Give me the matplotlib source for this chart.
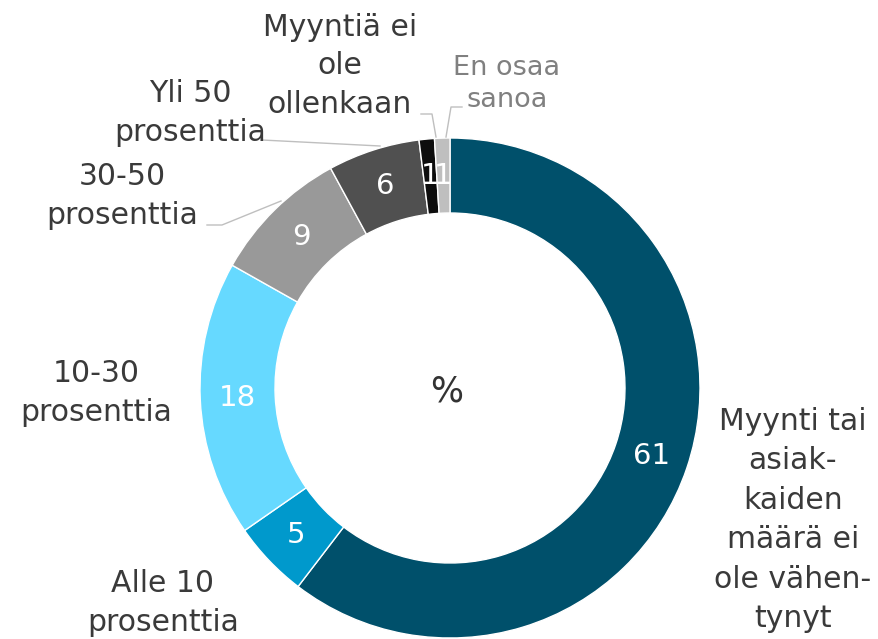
import matplotlib
matplotlib.use("Agg")
import matplotlib.pyplot as plt
import numpy as np

categories = ["Myynti tai\nasiak-\nkaiden\nmäärä ei\nole vähen-\ntynyt",
              "Alle 10\nprosenttia",
              "10-30\nprosenttia",
              "30-50\nprosenttia",
              "Yli 50\nprosenttia",
              "Myyntiä ei\nole\nollenkaan",
              "En osaa\nsanoa"]
values = [61, 5, 18, 9, 6, 1, 1]
colors = ["#00506B", "#0099CC", "#66D9FF", "#999999", "#505050", "#0D0D0D", "#BFBFBF"]

W, H = 879, 639
fig = plt.figure(figsize=(W / 100, H / 100), dpi=100)
ax = fig.add_axes([0, 0, 1, 1])

cx, cy, R = 450, H - 388, 250
width = 0.30
wedges, _ = ax.pie(values, colors=colors, startangle=90, counterclock=False,
                   center=(cx, cy), radius=R,
                   wedgeprops=dict(width=R * width, edgecolor="white", linewidth=1))
ax.set_xlim(0, W)
ax.set_ylim(0, H)
ax.set_aspect("equal")
ax.axis("off")

total = sum(values)
cum = 0
rmid = R * (1 - width / 2)
for v, w in zip(values, wedges):
    theta = np.deg2rad(90 - (cum + v / 2) / total * 360)
    cum += v
    x = cx + rmid * np.cos(theta)
    y = cy + rmid * np.sin(theta)
    ax.text(x, y, str(v), ha="center", va="center", color="white", fontsize=21)

txt = "#3A3A3A"
label_pos = [(793, 520), (163, 603), (96, 393), (122, 196), (190, 113), (340, 66), (507, 84)]
spacings = [1.46, 1.4, 1.4, 1.4, 1.4, 1.4, 1.28]
for i, (lab, (x, y)) in enumerate(zip(categories, label_pos)):
    ax.text(x, H - y, lab, ha="center", va="center",
            color="#808080" if i == 6 else txt,
            fontsize=19.5 if i == 6 else 21.5,
            linespacing=spacings[i])

lc = "#BFBFBF"
ax.plot([262, 380], [H - 140, H - 146], color=lc, lw=1)
ax.plot([207, 222, 281], [H - 225, H - 225, H - 201], color=lc, lw=1)
ax.plot([421, 432, 436], [H - 114, H - 114, H - 137], color=lc, lw=1)
ax.plot([462, 451, 446], [H - 107, H - 107, H - 137], color=lc, lw=1)

ax.text(447, H - 392, "%", ha="center", va="center", color="#333333", fontsize=25)

fig.savefig("out.png", dpi=100)
